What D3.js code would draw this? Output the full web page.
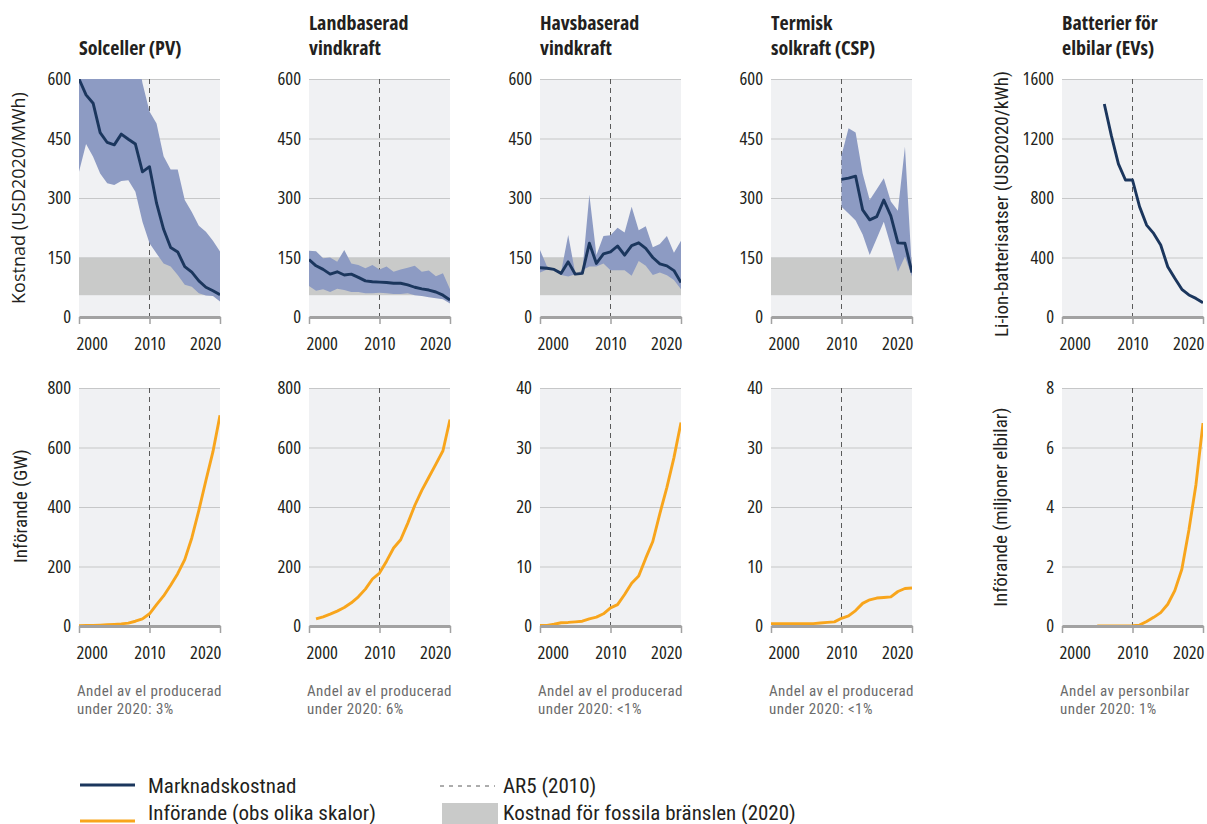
<!DOCTYPE html>
<html><head><meta charset="utf-8">
<script src="https://cdn.jsdelivr.net/npm/d3@7"></script>
<style>
html,body{margin:0;background:#fff;overflow:hidden}
svg{display:block}
svg text{font-family:'Open Sans','Noto Sans',sans-serif;fill:#231f20}
</style></head><body>
<svg id="chart" width="1207" height="824"></svg>
<script>
// ---- Years ----
const years = d3.range(2000, 2021);
const cspCostYears = d3.range(2010, 2021);
const evCostYears = d3.range(2006, 2021);
const onshoreDeployYears = d3.range(2001, 2021);
const evDeployYears = d3.range(2005, 2021);

// ---- Market cost (USD2020/MWh; EV batteries USD2020/kWh) ----
const pvCost      = [600,560,539,465,440,434,461,448,436,366,379,287,221,175,164,127,113,91,75,66,56];
const pvCostHigh  = [760,760,760,760,760,760,760,740,690,590,518,488,405,372,372,295,265,230,215,192,165];
const pvCostLow   = [366,436,404,362,337,333,343,345,316,240,186,160,135,127,106,81,76,60,54,53,39];

const onshoreCost     = [145,129,120,108,114,106,108,100,91,89,88,87,85,85,81,75,71,68,63,55,43];
const onshoreCostHigh = [167,166,148,150,139,169,135,131,123,131,120,127,114,120,124,129,114,117,103,110,70];
const onshoreCostLow  = [78,66,70,63,71,68,63,63,60,60,61,60,58,58,60,55,53,50,47,45,34];

const offshoreCost     = [124,123,120,110,139,108,110,186,135,159,164,179,156,180,187,173,150,134,129,117,87];
const offshoreCostHigh = [169,127,120,114,207,110,114,308,156,204,206,225,213,278,219,229,176,184,204,162,192];
const offshoreCostLow  = [112,120,118,106,102,108,118,127,127,135,118,118,118,104,141,129,106,112,105,93,70];

const cspCost     = [347,350,355,270,245,253,295,255,187,186,112];
const cspCostHigh = [408,476,465,362,295,322,350,291,268,429,116];
const cspCostLow  = [278,261,243,208,156,198,240,179,114,152,102];

const evCost = [1432,1219,1029,921,921,742,618,562,484,338,260,186,148,125,96];

// Fossil fuel cost range, 2020 (USD2020/MWh)
const fossilRange = [55, 150];

// ---- Deployment (GW; EVs in millions) ----
const pvDeploy       = [1.2,1.5,2,3,4,5.5,7,9.5,16,24,41,72,101,137,176,223,296,389,489,586,708];
const onshoreDeploy  = [24,31,40,50,62,78,98,124,158,178,218,262,290,345,405,456,500,544,589,694];
const offshoreDeploy = [0.1,0.1,0.3,0.55,0.6,0.7,0.8,1.2,1.5,2.05,3.05,3.6,5.3,7.2,8.4,11.4,14.2,18.9,23.3,28.3,34.2];
const cspDeploy      = [0.4,0.4,0.4,0.4,0.4,0.4,0.4,0.5,0.6,0.7,1.3,1.7,2.6,3.8,4.4,4.7,4.8,4.9,5.8,6.3,6.4];
const evDeploy       = [0,0,0,0,0,0.01,0.03,0.15,0.29,0.45,0.73,1.19,1.91,3.23,4.75,6.82];

// ---- Tick labels ----
const xTicks = [2000, 2010, 2020];
const costTicks = [0, 150, 300, 450, 600];
const evCostTicks = [0, 400, 800, 1200, 1600];
const gwTicks = [0, 200, 400, 600, 800];
const smallGwTicks = [0, 10, 20, 30, 40];
const evTicks = [0, 2, 4, 6, 8];

// ---- Text ----
const titles = [["Solceller (PV)"], ["Landbaserad", "vindkraft"], ["Havsbaserad", "vindkraft"], ["Termisk", "solkraft (CSP)"], ["Batterier för", "elbilar (EVs)"]];
const shareNotes = [
  ["Andel av el producerad", "under 2020: 3%"],
  ["Andel av el producerad", "under 2020: 6%"],
  ["Andel av el producerad", "under 2020: <1%"],
  ["Andel av el producerad", "under 2020: <1%"],
  ["Andel av personbilar", "under 2020: 1%"]
];

// ---- Layout & style ----
const svg = d3.select("#chart");
const colX = [79, 309, 540, 771, 1062];
const plotW = 141;
const costRow = {top: 79, bottom: 317};
const depRow = {top: 388, bottom: 626};
const C = {bg: "#f0f1f3", grid: "#c6c7c8", fossil: "#c9cac9", band: "#8d9bc3", navy: "#1b365d",
           orange: "#f8a51c", axis: "#a2a2a2", dash: "#5a5a5a", note: "#6b6b6b"};
const narrow = "'Roboto Condensed','Roboto','Open Sans',sans-serif";

let clipCount = 0;
function panel(cfg, row) {
  const x0 = colX[cfg.col];
  const x = d3.scaleLinear().domain([2000, 2020]).range([x0, x0 + plotW]);
  const y = d3.scaleLinear().domain([0, cfg.ticks[cfg.ticks.length - 1]]).range([row.bottom, row.top]);
  const g = svg.append("g");
  const clipId = "clip" + (clipCount++);
  g.append("clipPath").attr("id", clipId).append("rect")
    .attr("x", x0).attr("y", row.top).attr("width", plotW).attr("height", row.bottom - row.top);

  g.append("rect").attr("x", x0).attr("y", row.top).attr("width", plotW)
    .attr("height", row.bottom - row.top).attr("fill", C.bg);

  if (cfg.fossil) {
    g.append("rect").attr("x", x0).attr("width", plotW)
      .attr("y", y(fossilRange[1])).attr("height", y(fossilRange[0]) - y(fossilRange[1]))
      .attr("fill", C.fossil);
  }

  const ya = d3.axisLeft(y).tickValues(cfg.ticks).tickSize(-plotW).tickPadding(8).tickFormat(d3.format("d"));
  const gy = g.append("g").attr("transform", `translate(${x0},0)`).call(ya);
  gy.select(".domain").remove();
  gy.selectAll(".tick line").attr("stroke", C.grid).attr("stroke-width", 1.2);
  gy.selectAll(".tick text").attr("fill", null)
    .style("font-size", "18.5px").style("font-stretch", "condensed").style("font-weight", 500);

  g.append("line").attr("x1", x(2010)).attr("x2", x(2010)).attr("y1", row.top).attr("y2", row.bottom)
    .attr("stroke", C.dash).attr("stroke-width", 1).attr("stroke-dasharray", "5,4");

  const pg = g.append("g").attr("clip-path", `url(#${clipId})`);
  if (cfg.lo) {
    const rows = cfg.years.map((yr, i) => ({yr, lo: cfg.lo[i], hi: cfg.hi[i]}));
    pg.append("path").datum(rows)
      .attr("d", d3.area().x(d => x(d.yr)).y0(d => y(d.lo)).y1(d => y(d.hi)))
      .attr("fill", C.band);
  }
  const pts = cfg.years.map((yr, i) => ({yr, v: cfg.values[i]}));
  pg.append("path").datum(pts)
    .attr("d", d3.line().x(d => x(d.yr)).y(d => y(d.v)))
    .attr("fill", "none").attr("stroke", cfg.color).attr("stroke-width", 2.9)
    .attr("stroke-linejoin", "round");

  const xa = d3.axisBottom(x).tickValues(xTicks).tickSizeInner(7).tickSizeOuter(0).tickFormat(d3.format("d"));
  const gx = g.append("g").attr("transform", `translate(0,${row.bottom})`).call(xa);
  gx.select(".domain").attr("stroke", C.axis).attr("stroke-width", 3);
  gx.selectAll(".tick line").attr("stroke", C.axis).attr("stroke-width", 1.5);
  gx.selectAll(".tick text").attr("fill", null).attr("y", 33).attr("dy", 0)
    .style("font-size", "18.5px").style("font-stretch", "condensed").style("font-weight", 500)
    .attr("text-anchor", d => d === 2000 ? "start" : d === 2020 ? "end" : "middle")
    .attr("dx", d => d === 2000 ? -3 : d === 2020 ? 1 : 0);
  return {x, y};
}

// Cost row
const costPanels = [
  {col: 0, years: years, values: pvCost, lo: pvCostLow, hi: pvCostHigh, ticks: costTicks, fossil: true},
  {col: 1, years: years, values: onshoreCost, lo: onshoreCostLow, hi: onshoreCostHigh, ticks: costTicks, fossil: true},
  {col: 2, years: years, values: offshoreCost, lo: offshoreCostLow, hi: offshoreCostHigh, ticks: costTicks, fossil: true},
  {col: 3, years: cspCostYears, values: cspCost, lo: cspCostLow, hi: cspCostHigh, ticks: costTicks, fossil: true},
  {col: 4, years: evCostYears, values: evCost, ticks: evCostTicks, fossil: false}
];
costPanels.forEach(p => panel(Object.assign({color: C.navy}, p), costRow));

// Deployment row
const depPanels = [
  {col: 0, years: years, values: pvDeploy, ticks: gwTicks},
  {col: 1, years: onshoreDeployYears, values: onshoreDeploy, ticks: gwTicks},
  {col: 2, years: years, values: offshoreDeploy, ticks: smallGwTicks},
  {col: 3, years: years, values: cspDeploy, ticks: smallGwTicks},
  {col: 4, years: evDeployYears, values: evDeploy, ticks: evTicks}
];
depPanels.forEach(p => panel(Object.assign({color: C.orange}, p), depRow));

// Panel titles
titles.forEach((lines, i) => {
  const t = svg.append("text").attr("x", colX[i]).attr("y", lines.length === 1 ? 55 : 30)
    .style("font-size", "20px").style("font-weight", 700).style("font-stretch", "semi-condensed");
  lines.forEach((s, j) => t.append("tspan").attr("x", colX[i]).attr("dy", j === 0 ? 0 : 25).text(s));
});

// Share notes under the deployment panels
shareNotes.forEach((lines, i) => {
  const t = svg.append("text").attr("x", colX[i] - 2).attr("y", 696)
    .style("font-family", narrow).style("font-stretch", "condensed")
    .style("font-size", "15px").style("letter-spacing", "0.45px").style("fill", C.note);
  lines.forEach((s, j) => t.append("tspan").attr("x", colX[i] - 2).attr("dy", j === 0 ? 0 : 17.6).text(s));
});

// Axis titles
function yTitle(text, cx, cy, family, size) {
  svg.append("text").attr("transform", `translate(${cx},${cy}) rotate(-90)`)
    .attr("text-anchor", "middle").attr("dy", "0.35em")
    .style("font-family", family).style("font-stretch", family === narrow ? "condensed" : "normal")
    .style("font-size", size + "px").text(text);
}
yTitle("Kostnad (USD2020/MWh)", 19, 198, "'Open Sans',sans-serif", 18);
yTitle("Införande (GW)", 20, 506, narrow, 19);
yTitle("Li-ion-batterisatser (USD2020/kWh)", 1001, 204, narrow, 19);
yTitle("Införande (miljoner elbilar)", 1000, 507, narrow, 19);

// Legend
const lg = svg.append("g");
const legendText = (x, y, s) => lg.append("text").attr("x", x).attr("y", y)
  .style("font-family", narrow).style("font-stretch", "condensed")
  .style("font-size", "21px").text(s);
lg.append("line").attr("x1", 80).attr("x2", 135).attr("y1", 785).attr("y2", 785).attr("stroke", C.navy).attr("stroke-width", 3);
legendText(148, 793, "Marknadskostnad");
lg.append("line").attr("x1", 80).attr("x2", 135).attr("y1", 821).attr("y2", 821).attr("stroke", C.orange).attr("stroke-width", 3);
legendText(148, 819.5, "Införande (obs olika skalor)");
lg.append("line").attr("x1", 440).attr("x2", 495).attr("y1", 786).attr("y2", 786).attr("stroke", C.dash).attr("stroke-width", 1).attr("stroke-dasharray", "4,5");
legendText(503, 793, "AR5 (2010)");
lg.append("rect").attr("x", 442).attr("y", 803).attr("width", 56).attr("height", 22).attr("fill", C.fossil);
legendText(503, 819.5, "Kostnad för fossila bränslen (2020)");
</script></body></html>
